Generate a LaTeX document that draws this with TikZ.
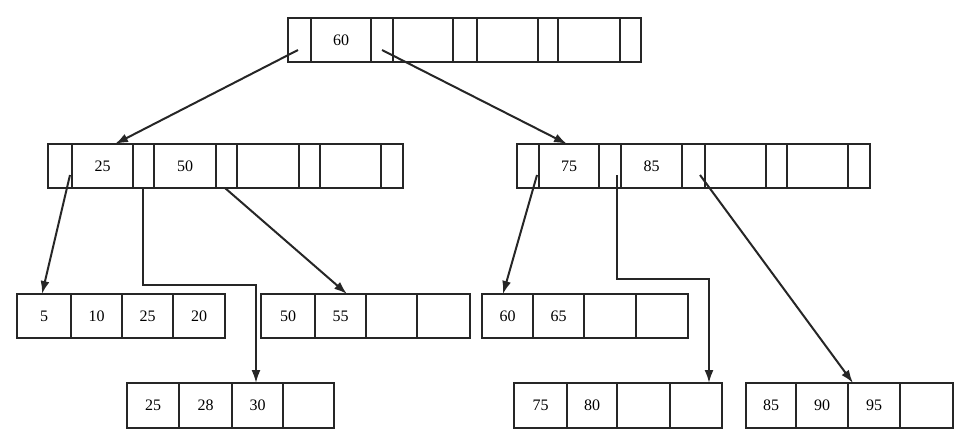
\documentclass[tikz,border=0pt]{standalone}
\usepackage{fontspec}
\setmainfont{Liberation Serif}
\usetikzlibrary{arrows.meta}
\tikzset{
  cell/.style={draw=black!85, line width=1.8pt, inner sep=0pt, font=\fontsize{16}{16}\selectfont},
  link/.style={draw=black!85, line width=2pt, -{Latex[length=13pt,width=9pt]}},
}
\newcommand\cellbox[6]{\node[cell, minimum width={(#3-#2)*1pt}, minimum height={(#5-#4)*1pt}] (#1) at ({(#2+#3)/2},{(#4+#5)/2}) {#6};}
\begin{document}
\begin{tikzpicture}[x=1pt,y=-1pt]
\useasboundingbox (0,0) rectangle (971,441);
% top node
\cellbox{t0}{288}{311}{18}{62}{}
\cellbox{t1}{311}{371}{18}{62}{60}
\cellbox{t2}{371}{393}{18}{62}{}
\cellbox{t3}{393}{453}{18}{62}{}
\cellbox{t4}{453}{477}{18}{62}{}
\cellbox{t5}{477}{538}{18}{62}{}
\cellbox{t6}{538}{558}{18}{62}{}
\cellbox{t7}{558}{620}{18}{62}{}
\cellbox{t8}{620}{641}{18}{62}{}
% middle left
\cellbox{a0}{48}{72}{144}{188}{}
\cellbox{a1}{72}{133}{144}{188}{25}
\cellbox{a2}{133}{154}{144}{188}{}
\cellbox{a3}{154}{216}{144}{188}{50}
\cellbox{a4}{216}{237}{144}{188}{}
\cellbox{a5}{237}{299}{144}{188}{}
\cellbox{a6}{299}{320}{144}{188}{}
\cellbox{a7}{320}{381}{144}{188}{}
\cellbox{a8}{381}{403}{144}{188}{}
% middle right
\cellbox{b0}{517}{539}{144}{188}{}
\cellbox{b1}{539}{599}{144}{188}{75}
\cellbox{b2}{599}{621}{144}{188}{}
\cellbox{b3}{621}{682}{144}{188}{85}
\cellbox{b4}{682}{705}{144}{188}{}
\cellbox{b5}{705}{766}{144}{188}{}
\cellbox{b6}{766}{787}{144}{188}{}
\cellbox{b7}{787}{848}{144}{188}{}
\cellbox{b8}{848}{870}{144}{188}{}
% leaves row 1
\cellbox{c0}{17}{71}{294}{338}{5}
\cellbox{c1}{71}{122}{294}{338}{10}
\cellbox{c2}{122}{173}{294}{338}{25}
\cellbox{c3}{173}{225}{294}{338}{20}
\cellbox{d0}{261}{315}{294}{338}{50}
\cellbox{d1}{315}{366}{294}{338}{55}
\cellbox{d2}{366}{417}{294}{338}{}
\cellbox{d3}{417}{470}{294}{338}{}
\cellbox{e0}{482}{533}{294}{338}{60}
\cellbox{e1}{533}{584}{294}{338}{65}
\cellbox{e2}{584}{636}{294}{338}{}
\cellbox{e3}{636}{688}{294}{338}{}
% leaves row 2
\cellbox{f0}{127}{179}{383}{428}{25}
\cellbox{f1}{179}{232}{383}{428}{28}
\cellbox{f2}{232}{283}{383}{428}{30}
\cellbox{f3}{283}{334}{383}{428}{}
\cellbox{g0}{514}{567}{383}{428}{75}
\cellbox{g1}{567}{617}{383}{428}{80}
\cellbox{g2}{617}{670}{383}{428}{}
\cellbox{g3}{670}{722}{383}{428}{}
\cellbox{h0}{746}{796}{383}{428}{85}
\cellbox{h1}{796}{848}{383}{428}{90}
\cellbox{h2}{848}{900}{383}{428}{95}
\cellbox{h3}{900}{953}{383}{428}{}
% connector end points
\coordinate (s1) at (298,50);  \coordinate (e1) at (115,144);
\coordinate (s2) at (382,50);  \coordinate (e2) at (567,144);
\coordinate (s3) at (70,175);  \coordinate (e3) at (42,294);
\coordinate (s4) at (143,188); \coordinate (e4) at (256,383);
\coordinate (s5) at (225,188); \coordinate (e5) at (347,294);
\coordinate (s6) at (537,175); \coordinate (e6) at (503,294);
\coordinate (s7) at (617,175); \coordinate (e7) at (709,383);
\coordinate (s8) at (700,175); \coordinate (e8) at (853,383);
\draw[link] (s1) -- (e1);
\draw[link] (s2) -- (e2);
\draw[link] (s3) -- (e3);
\draw[link] (s4) -- (143,285) -- (256,285) -- (e4);
\draw[link] (s5) -- (e5);
\draw[link] (s6) -- (e6);
\draw[link] (s7) -- (617,279) -- (709,279) -- (e7);
\draw[link] (s8) -- (e8);
\end{tikzpicture}
\end{document}
